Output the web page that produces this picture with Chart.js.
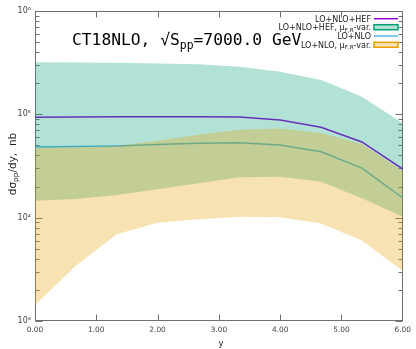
<!DOCTYPE html>
<html>
<head>
<meta charset="utf-8">
<script src="https://cdn.jsdelivr.net/npm/chart.js@4.4.1/dist/chart.umd.min.js"></script>
<style>
  html, body { margin: 0; padding: 0; background: #fff; }
</style>
</head>
<body>
<canvas id="myChart" width="416" height="349"></canvas>
<script>
// rapidity points
var rapidity = [0, 0.6667, 1.3333, 2, 2.6667, 3.3333, 4, 4.6667, 5.3333, 6];

// LO+NLO+HEF and its mu_F,R band
var hef = [93500, 94000, 94500, 95000, 95000, 94000, 88000, 75000, 54000, 29500];
var hefUp = [320000, 318000, 315000, 310000, 305000, 288000, 258000, 215000, 148000, 82000];
var hefLo = [14600, 15200, 16600, 18800, 21500, 24600, 24900, 22300, 15400, 10200];

// LO+NLO and its mu_F,R band
var nlo = [48300, 48800, 49500, 51000, 52500, 53000, 50500, 43500, 30200, 15500];
var nloUp = [47500, 48000, 49500, 55500, 63500, 71000, 73000, 66000, 51500, 28300];
var nloLo = [1430, 3430, 6900, 8950, 9640, 10200, 10100, 8800, 6000, 3070];

var xTickValues = [0, 1, 2, 3, 4, 5, 6];
var xTickLabels = ["0.00", "1.00", "2.00", "3.00", "4.00", "5.00", "6.00"];
var yTickValues = [1000, 10000, 100000, 1000000];
var yTickLabels = ["10³", "10⁴", "10⁵", "10⁶"];

var purple = "#9400d3";
var blue = "#56b4e9";
var teal = "rgba(0, 158, 115, 0.3)";
var orange = "rgba(230, 159, 0, 0.3)";

function pts(vals) {
  var out = [];
  for (var i = 0; i < rapidity.length; i++) {
    out.push({ x: rapidity[i], y: vals[i] });
  }
  return out;
}

// draws text made of pieces, some of them as subscripts
function richText(ctx, parts, x, y, size, family, align) {
  var total = 0;
  for (var i = 0; i < parts.length; i++) {
    var s = parts[i][1] ? size * 0.7 : size;
    ctx.font = s + "px " + family;
    parts[i].w = ctx.measureText(parts[i][0]).width;
    total += parts[i].w;
  }
  var cx = align === "right" ? x - total : align === "center" ? x - total / 2 : x;
  ctx.textAlign = "left";
  ctx.textBaseline = "alphabetic";
  for (var j = 0; j < parts.length; j++) {
    var sub = parts[j][1];
    ctx.font = (sub ? size * 0.7 : size) + "px " + family;
    ctx.fillText(parts[j][0], cx, sub ? y + size * 0.22 : y);
    cx += parts[j].w;
  }
}

var frame = {
  id: "frame",
  beforeDatasetsDraw: function (chart) {
    var ctx = chart.ctx;
    var a = chart.chartArea;
    var xs = chart.scales.x;
    var ys = chart.scales.y;
    var L = Math.round(a.left) + 0.5, R = Math.round(a.right) - 0.5;
    var T = Math.round(a.top) + 0.5, B = Math.round(a.bottom) - 0.5;
    ctx.save();
    ctx.strokeStyle = "#707070";
    ctx.lineWidth = 1;
    ctx.beginPath();
    for (var i = 1; i < xTickValues.length - 1; i++) {
      var px = Math.round(xs.getPixelForValue(xTickValues[i])) + 0.5;
      ctx.moveTo(px, B); ctx.lineTo(px, B - 6);
      ctx.moveTo(px, T); ctx.lineTo(px, T + 6);
    }
    for (var e = 3; e < 6; e++) {
      for (var m = 1; m < 10; m++) {
        var v = m * Math.pow(10, e);
        var py = Math.round(ys.getPixelForValue(v)) + 0.5;
        var len = m === 1 ? 7 : 4;
        ctx.moveTo(L, py); ctx.lineTo(L + len, py);
        ctx.moveTo(R, py); ctx.lineTo(R - len, py);
      }
    }
    ctx.stroke();
    ctx.strokeRect(L, T, R - L, B - T);
    ctx.restore();
  },
  afterDraw: function (chart) {
    var ctx = chart.ctx;
    ctx.save();
    // title
    ctx.fillStyle = "#000";
    richText(ctx, [["CT18NLO, √S", false], ["pp", true], ["=7000.0 GeV", false]],
      72, 45, 16.3, "'DejaVu Sans Mono'", "left");

    // axis titles
    ctx.fillStyle = "#222";
    ctx.save();
    ctx.translate(16, 164);
    ctx.rotate(-Math.PI / 2);
    richText(ctx, [["dσ", false], ["pp", true], ["/dy,  nb", false]], 0, 0, 10.5, "'DejaVu Sans'", "center");
    ctx.restore();
    ctx.font = "8.5px 'DejaVu Sans'";
    ctx.textAlign = "center";
    ctx.textBaseline = "middle";
    ctx.fillText("y", 221, 344);

    // legend
    var tx = 371, sx = 374, ex = 398;
    ctx.fillStyle = "#222";
    var rows = [18.7, 27.2, 36, 44.8];
    richText(ctx, [["LO+NLO+HEF", false]], tx, rows[0] + 2.9, 8, "'DejaVu Sans'", "right");
    richText(ctx, [["LO+NLO+HEF, μ", false], ["F,R", true], ["-var.", false]], tx, rows[1] + 2.9, 8, "'DejaVu Sans'", "right");
    richText(ctx, [["LO+NLO", false]], tx, rows[2] + 2.9, 8, "'DejaVu Sans'", "right");
    richText(ctx, [["LO+NLO, μ", false], ["F,R", true], ["-var.", false]], tx, rows[3] + 2.9, 8, "'DejaVu Sans'", "right");

    ctx.lineWidth = 1.5;
    ctx.strokeStyle = purple;
    ctx.beginPath(); ctx.moveTo(sx, rows[0]); ctx.lineTo(ex, rows[0]); ctx.stroke();
    ctx.strokeStyle = blue;
    ctx.beginPath(); ctx.moveTo(sx, rows[2]); ctx.lineTo(ex, rows[2]); ctx.stroke();

    ctx.fillStyle = teal;
    ctx.fillRect(sx, rows[1] - 2.5, ex - sx, 5);
    ctx.strokeStyle = "#009e73";
    ctx.strokeRect(sx, rows[1] - 2.5, ex - sx, 5);
    ctx.fillStyle = orange;
    ctx.fillRect(sx, rows[3] - 2.5, ex - sx, 5);
    ctx.strokeStyle = "#e69f00";
    ctx.strokeRect(sx, rows[3] - 2.5, ex - sx, 5);
    ctx.restore();
  }
};

var ctx = document.getElementById("myChart").getContext("2d");
var myChart = new Chart(ctx, {
  type: "line",
  data: {
    datasets: [
      {
        label: "LO+NLO+HEF, μF,R-var.",
        data: pts(hefUp),
        fill: "+1",
        backgroundColor: teal,
        borderColor: "transparent",
        borderWidth: 1,
        pointRadius: 0,
        order: 1,
      },
      {
        label: "hef lower",
        data: pts(hefLo),
        fill: false,
        borderColor: "transparent",
        borderWidth: 1,
        pointRadius: 0,
        order: 1,
      },
      {
        label: "LO+NLO, μF,R-var.",
        data: pts(nloUp),
        fill: "+1",
        backgroundColor: orange,
        borderColor: "transparent",
        borderWidth: 1,
        pointRadius: 0,
        order: 0,
      },
      {
        label: "nlo lower",
        data: pts(nloLo),
        fill: false,
        borderColor: "transparent",
        borderWidth: 1,
        pointRadius: 0,
        order: 0,
      },
      {
        label: "LO+NLO+HEF",
        data: pts(hef),
        fill: false,
        borderColor: purple,
        borderWidth: 1.5,
        pointRadius: 0,
        tension: 0,
        order: 2,
      },
      {
        label: "LO+NLO",
        data: pts(nlo),
        fill: false,
        borderColor: blue,
        borderWidth: 1.5,
        pointRadius: 0,
        tension: 0,
        order: 2,
      },
    ],
  },
  options: {
    responsive: false,
    animation: false,
    layout: { padding: { top: 11, right: 9, left: 0, bottom: 0 } },
    plugins: {
      legend: { display: false },
      tooltip: { enabled: false },
    },
    scales: {
      x: {
        type: "linear",
        min: 0,
        max: 6,
        afterFit: function (scale) { scale.height = 28; },
        afterBuildTicks: function (scale) {
          scale.ticks = xTickValues.map(function (v) { return { value: v }; });
        },
        grid: { display: false, drawTicks: false },
        border: { display: false },
        ticks: {
          padding: 5,
          color: "#444",
          font: { family: "'DejaVu Sans'", size: 7.4 },
          maxRotation: 0,
          callback: function (v) {
            var i = xTickValues.indexOf(v);
            return i >= 0 ? xTickLabels[i] : "";
          },
        },
      },
      y: {
        type: "logarithmic",
        min: 1000,
        max: 1000000,
        afterFit: function (scale) { scale.width = 35; },
        afterBuildTicks: function (scale) {
          scale.ticks = yTickValues.map(function (v) { return { value: v }; });
        },
        grid: { display: false, drawTicks: false },
        border: { display: false },
        ticks: {
          padding: 4,
          color: "#444",
          font: { family: "'DejaVu Sans'", size: 8 },
          callback: function (v) {
            var i = yTickValues.indexOf(v);
            return i >= 0 ? yTickLabels[i] : "";
          },
        },
      },
    },
  },
  plugins: [frame],
});
</script>
</body>
</html>
